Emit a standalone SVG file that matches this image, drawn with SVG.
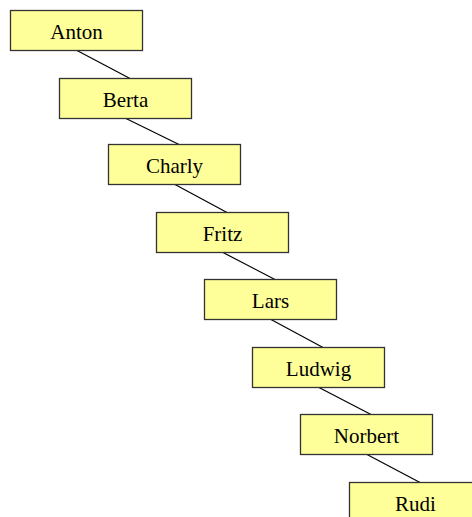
<svg xmlns="http://www.w3.org/2000/svg" width="472" height="517" viewBox="0 0 472 517">
<style>
.box{fill:#ffff99;stroke:#333333;stroke-width:1.3}
.lbl{font-family:"Liberation Serif","Times New Roman",serif;font-size:21px;fill:#000;text-anchor:middle}
.edge{stroke:#000;stroke-width:1.2;fill:none}
</style>
<rect width="472" height="517" fill="#ffffff"/>
<g id="connectors">
<line class="edge" x1="77" y1="50.5" x2="130" y2="78.5"/>
<line class="edge" x1="126" y1="118.5" x2="179" y2="144.5"/>
<line class="edge" x1="175" y1="184.5" x2="227" y2="212.5"/>
<line class="edge" x1="223" y1="252.5" x2="275" y2="279.5"/>
<line class="edge" x1="271" y1="319.5" x2="323" y2="347.5"/>
<line class="edge" x1="319" y1="387.5" x2="371" y2="414.5"/>
<line class="edge" x1="367" y1="454.5" x2="420" y2="482.5"/>
</g>
<g id="anton"><rect class="box" x="10.5" y="10.5" width="132" height="40"/><text class="lbl" x="76.5" y="38.5">Anton</text></g>
<g id="berta"><rect class="box" x="59.5" y="78.5" width="132" height="40"/><text class="lbl" x="125.5" y="106.5">Berta</text></g>
<g id="charly"><rect class="box" x="108.5" y="144.5" width="132" height="40"/><text class="lbl" x="174.5" y="172.5">Charly</text></g>
<g id="fritz"><rect class="box" x="156.5" y="212.5" width="132" height="40"/><text class="lbl" x="222.5" y="240.5">Fritz</text></g>
<g id="lars"><rect class="box" x="204.5" y="279.5" width="132" height="40"/><text class="lbl" x="270.5" y="307.5">Lars</text></g>
<g id="ludwig"><rect class="box" x="252.5" y="347.5" width="132" height="40"/><text class="lbl" x="318.5" y="375.5">Ludwig</text></g>
<g id="norbert"><rect class="box" x="300.5" y="414.5" width="132" height="40"/><text class="lbl" x="366.5" y="442.5">Norbert</text></g>
<g id="rudi"><rect class="box" x="349.5" y="482.5" width="132" height="40"/><text class="lbl" x="415.5" y="510.5">Rudi</text></g>
</svg>
